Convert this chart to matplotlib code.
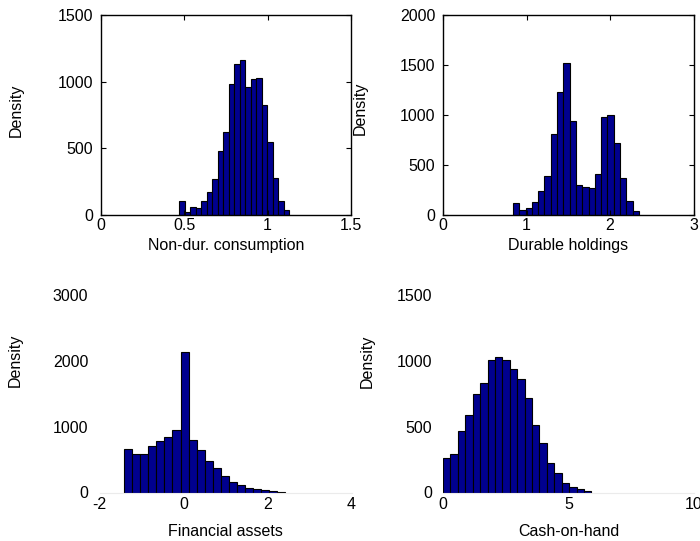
import numpy as np
import matplotlib
matplotlib.use("Agg")
import matplotlib.pyplot as plt

plt.rcParams['font.family'] = ['Liberation Sans', 'DejaVu Sans']
plt.rcParams['font.size'] = 11.5

# histogram counts (20 bins each)
cons_range = [0.472, 1.131]
cons_counts = [108, 24, 62, 55, 106, 170, 270, 482, 625, 980,
               1135, 1166, 958, 1020, 1028, 825, 544, 279, 108, 36]

dur_range = [0.838, 2.346]
dur_counts = [115, 45, 67, 133, 240, 393, 808, 1227, 1517, 943,
              303, 279, 274, 410, 980, 1000, 720, 365, 140, 40]

fin_range = [-1.415, 2.427]
fin_counts = [663, 580, 590, 711, 783, 849, 943, 2137, 800, 638,
              480, 366, 254, 160, 115, 69, 54, 36, 20, 15]

cash_range = [0.0, 5.91]
cash_counts = [264, 295, 467, 590, 745, 828, 1003, 1028, 1003, 941,
               864, 716, 515, 375, 226, 145, 71, 44, 25, 8]

xlabels = ["Non-dur. consumption", "Durable holdings", "Financial assets", "Cash-on-hand"]
xlims = [(0, 1.5), (0, 3), (-2, 4), (0, 10)]
xticks = [[0, 0.5, 1, 1.5], [0, 1, 2, 3], [-2, 0, 2, 4], [0, 5, 10]]
xticklabels = [["0", "0.5", "1", "1.5"], ["0", "1", "2", "3"],
               ["-2", "0", "2", "4"], ["0", "5", "10"]]
ylims = [(0, 1500), (0, 2000), (0, 3000), (0, 1500)]
yticks = [[0, 500, 1000, 1500], [0, 500, 1000, 1500, 2000],
          [0, 1000, 2000, 3000], [0, 500, 1000, 1500]]

data = [(cons_range, cons_counts), (dur_range, dur_counts),
        (fin_range, fin_counts), (cash_range, cash_counts)]

W, H = 700, 541
rects = [(100.5, 15, 250.5, 200), (443, 15, 250.5, 200),
         (99.5, 295, 252, 197.5), (443, 295, 251, 197.5)]
ylab_pos = [(-0.337, 0.525), (-0.332, 0.535), (-0.335, 0.67), (-0.30, 0.665)]

fig = plt.figure(figsize=(W/100, H/100), dpi=100)
for i in range(4):
    l, t, w, h = rects[i]
    ax = fig.add_axes([l/W, 1 - (t + h)/H, w/W, h/H])
    (lo, hi), counts = data[i]
    edges = np.linspace(lo, hi, len(counts) + 1)
    ax.hist(edges[:-1], bins=edges, weights=counts, color="#00008F",
            edgecolor="black", linewidth=0.8)
    ax.set_xlim(*xlims[i])
    ax.set_ylim(*ylims[i])
    ax.set_xticks(xticks[i])
    ax.set_xticklabels(xticklabels[i])
    ax.set_yticks(yticks[i])
    ax.set_xlabel(xlabels[i])
    ax.set_ylabel("Density", va="center")
    ax.yaxis.set_label_coords(*ylab_pos[i])
    if i < 2:
        ax.tick_params(direction="in", top=True, right=True, length=3.5, width=0.8)
        ax.tick_params(axis="x", pad=2)
        ax.tick_params(axis="y", pad=5.5)
        for s in ax.spines.values():
            s.set_linewidth(1.0)
        ax.xaxis.set_label_coords(0.5, -0.115)
    else:
        ax.tick_params(length=0)
        ax.tick_params(axis="x", pad=3)
        ax.tick_params(axis="y", pad=8)
        for side in ["top", "right", "left"]:
            ax.spines[side].set_visible(False)
        ax.spines["bottom"].set_color("#EBEBEB")
        ax.spines["bottom"].set_linewidth(0.8)
        ax.xaxis.set_label_coords(0.5, -0.157)

fig.savefig("out.png", dpi=100)
